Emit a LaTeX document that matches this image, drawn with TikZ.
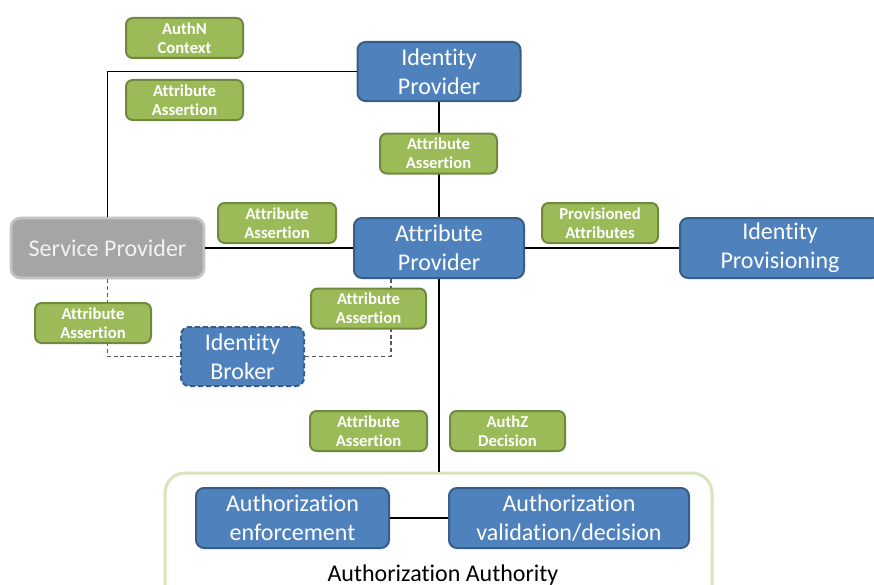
\documentclass[tikz,border=0pt]{standalone}
\usepackage{fontspec}
\setmainfont{Carlito}[Ligatures={NoCommon}]
\definecolor{bluefill}{HTML}{4F81BD}
\definecolor{blueedge}{HTML}{385D8A}
\definecolor{greenfill}{HTML}{9BBB59}
\definecolor{greenedge}{HTML}{71893F}
\definecolor{grayfill}{HTML}{A5A5A5}
\definecolor{grayedge}{HTML}{C4C4C4}
\definecolor{framegreen}{HTML}{D7E4BD}
\definecolor{dashgray}{HTML}{595959}

\begin{document}
\begin{tikzpicture}[x=0.75pt,y=-0.75pt,
  bigtext/.style={font=\fontsize{18}{21.75}\selectfont},
  bluebox/.style={draw=blueedge, fill=bluefill, line width=1.5pt,
    rounded corners=6pt, text=white, bigtext, align=center, inner sep=0pt},
  graybox/.style={draw=grayedge, fill=grayfill, line width=2pt,
    rounded corners=7pt, text=white!95!black, bigtext, align=center, inner sep=0pt},
  tag/.style={draw=greenedge, fill=greenfill, line width=1.5pt,
    rounded corners=5pt, text=white, font=\fontsize{12.5}{14.25}\selectfont\bfseries,
    align=center, inner sep=0pt, minimum height=30pt},
  authzframe/.style={draw=framegreen, line width=2.25pt, rounded corners=15pt},
  link/.style={draw=black, line width=0.9pt},
  dashlink/.style={draw=dashgray, line width=0.9pt, dash pattern=on 3pt off 2.2pt}]

\useasboundingbox (0,0) rectangle (874,585);

% Authorization Authority group frame
\node[authzframe, minimum width=410.25pt, minimum height=99pt] (authz) at (438.5,539) {};
\node[anchor=base, bigtext] (authzlabel) at (443,581) {Authorization Authority};

% main components
\node[bluebox, minimum width=122.25pt, minimum height=44.25pt] (idp) at (439,71.5) {Identity\\Provider};
\node[bluebox, minimum width=127.5pt, minimum height=45pt] (ap) at (439,248) {Attribute\\Provider};
\node[graybox, minimum width=144.75pt, minimum height=45pt] (sp) at (107.5,248) {Service Provider};
\node[bluebox, minimum width=150pt, minimum height=45pt] (ip) at (780,248) {Identity\\Provisioning};
\node[bluebox, dashed, dash pattern=on 4pt off 2pt, minimum width=92.25pt, minimum height=44.25pt] (broker) at (242.5,356.5) {Identity\\Broker};
\node[bluebox, minimum width=144.75pt, minimum height=45pt] (enf) at (292.5,518) {Authorization\\enforcement};
\node[bluebox, minimum width=180pt, minimum height=45pt] (val) at (569,518) {Authorization\\validation/decision};

% connectors
\draw[link] (sp.north) |- (idp.west);
\draw[link] (idp.south) -- (ap.north);
\draw[link] (sp.east) -- (ap.west);
\draw[link] (ap.east) -- (ip.west);
\draw[link] (ap.south) -- (ap.south |- authz.north);
\draw[link] (enf.east) -- (val.west);
\draw[dashlink] (sp.south) |- (broker.west);
\draw[dashlink] (broker.east) -| ([xshift=-36pt]ap.south);

% message labels
\node[tag, minimum width=87.75pt] (authn) at (184.5,38) {AuthN\\Context};
\node[tag, minimum width=87.75pt] (aa1) at (184.5,100) {Attribute\\Assertion};
\node[tag, minimum width=87.75pt] (aa2) at (438.5,153.5) {Attribute\\Assertion};
\node[tag, minimum width=88.5pt] (aa3) at (277,223) {Attribute\\Assertion};
\node[tag, minimum width=87pt] (prov) at (600,223) {Provisioned\\Attributes};
\node[tag, minimum width=87pt] (aa4) at (93,323) {Attribute\\Assertion};
\node[tag, minimum width=86.25pt] (aa5) at (368.5,308.5) {Attribute\\Assertion};
\node[tag, minimum width=87.75pt] (aa6) at (368.5,431) {Attribute\\Assertion};
\node[tag, minimum width=86.25pt] (authzdec) at (507.5,431) {AuthZ\\Decision};
\end{tikzpicture}
\end{document}
